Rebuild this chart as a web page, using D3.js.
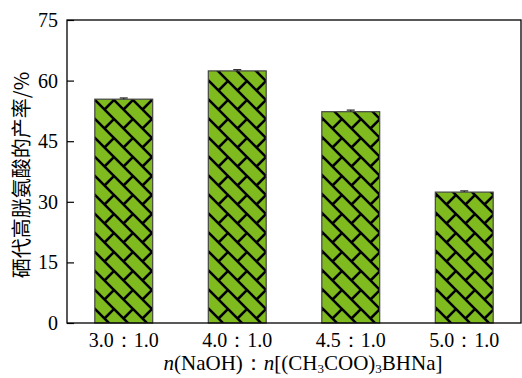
<!DOCTYPE html>
<html>
<head>
<meta charset="utf-8">
<script src="https://cdn.jsdelivr.net/npm/d3@7"></script>
<style>
  body { margin: 0; background: #fff; }
  text { font-family: "Liberation Serif", "Times New Roman", serif; fill: #000; }
</style>
</head>
<body>
<svg id="canvas"></svg>
<script>
let categories = ['3.0：1.0', '4.0：1.0', '4.5：1.0', '5.0：1.0'];
let values = [55.4, 62.4, 52.3, 32.4];
let errors = [0.3, 0.3, 0.4, 0.3];
let yTicks = [0, 15, 30, 45, 60, 75];

let width = 522;
let height = 378;
let plotLeft = 67, plotRight = 521, plotTop = 20, plotBottom = 323;

let svg = d3.select('#canvas').attr('width', width).attr('height', height);

/*diagonal brick hatch for the bars*/
let pat = svg.append('defs').append('pattern')
    .attr('id', 'brick')
    .attr('patternUnits', 'userSpaceOnUse')
    .attr('width', 19).attr('height', 19)
    .attr('x', 95).attr('y', 100);
pat.append('rect').attr('width', 19).attr('height', 19).attr('fill', '#7fbb1f');
pat.append('path')
    .attr('d', 'M-2,-2 L21,21 M-2,17 L2,21 M17,-2 L21,2 M9.5,9.5 L19,0')
    .attr('stroke', '#000').attr('stroke-width', 2.6).attr('fill', 'none');

let xScale = d3.scaleBand().domain(categories).range([plotLeft, plotRight]).paddingInner(0.49).paddingOuter(0.245);
let yScale = d3.scaleLinear().domain([0, 75]).range([plotBottom, plotTop]);

svg.selectAll('rect.bar')
    .data(values)
    .enter()
    .append('rect')
    .attr('class', 'bar')
    .attr('x', (d, i) => xScale(categories[i]))
    .attr('width', xScale.bandwidth())
    .attr('y', d => yScale(d))
    .attr('height', d => yScale(0) - yScale(d))
    .attr('fill', 'url(#brick)')
    .attr('stroke', '#444')
    .attr('stroke-width', 1.2);

/*error bars*/
let eb = svg.append('g').attr('stroke', '#222').attr('stroke-width', 1.2);
values.forEach((d, i) => {
    let cx = xScale(categories[i]) + xScale.bandwidth() / 2;
    eb.append('line').attr('x1', cx).attr('x2', cx).attr('y1', yScale(d + errors[i])).attr('y2', yScale(d));
    eb.append('line').attr('x1', cx - 4).attr('x2', cx + 4).attr('y1', yScale(d + errors[i])).attr('y2', yScale(d + errors[i]));
});

/*axes*/
let yAxis = d3.axisLeft(yScale).tickValues(yTicks).tickSizeInner(-7).tickSizeOuter(0).tickPadding(9);
let gy = svg.append('g').attr('transform', 'translate(' + plotLeft + ',0)').call(yAxis);
gy.select('.domain').remove();
gy.selectAll('text').style('font-size', '20px');
gy.selectAll('line').attr('stroke', '#000').attr('stroke-width', 1.2);

let xAxis = d3.axisBottom(xScale).tickSize(0).tickPadding(10);
let gx = svg.append('g').attr('transform', 'translate(0,' + plotBottom + ')').call(xAxis);
gx.select('.domain').remove();
gx.selectAll('text').style('font-size', '20px');

/*frame*/
svg.append('rect')
    .attr('x', plotLeft).attr('y', plotTop)
    .attr('width', plotRight - plotLeft).attr('height', plotBottom - plotTop)
    .attr('fill', 'none').attr('stroke', '#000').attr('stroke-width', 1.3);

/*titles*/
let xt = svg.append('text')
    .attr('x', 303).attr('y', 370)
    .attr('text-anchor', 'middle')
    .style('font-size', '21px');
xt.append('tspan').attr('font-style', 'italic').text('n');
xt.append('tspan').text('(NaOH)：');
xt.append('tspan').attr('font-style', 'italic').text('n');
xt.append('tspan').text('[(CH');
xt.append('tspan').attr('dy', 3).style('font-size', '13px').text('3');
xt.append('tspan').attr('dy', -3).text('COO)');
xt.append('tspan').attr('dy', 3).style('font-size', '13px').text('3');
xt.append('tspan').attr('dy', -3).text('BHNa]');

svg.append('text')
    .attr('transform', 'translate(29,175) rotate(-90)')
    .attr('text-anchor', 'middle')
    .style('font-family', '"Noto Sans CJK SC", "Liberation Serif", serif')
    .style('font-size', '20px')
    .text('硒代高胱氨酸的产率/%');
</script>
</body>
</html>
